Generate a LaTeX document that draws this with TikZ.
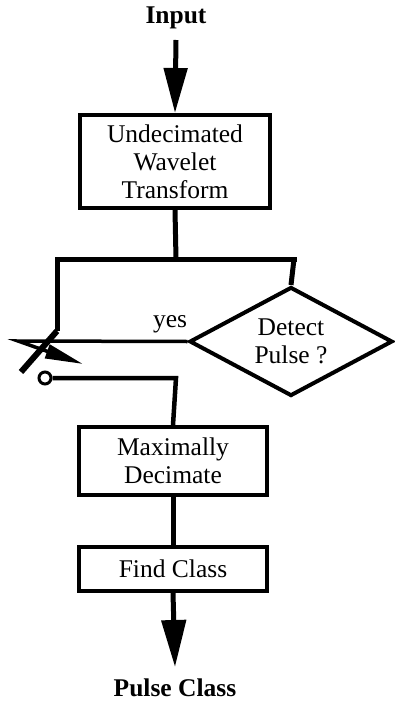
\documentclass[tikz,border=0pt]{standalone}
\usepackage{fontspec}
\setmainfont{Liberation Serif}
\usetikzlibrary{arrows.meta,shapes.geometric}
\begin{document}
\begin{tikzpicture}[x=1pt,y=-1pt,
  txt/.style={font=\fontsize{25.5}{28}\selectfont, align=center, inner sep=0pt},
  box/.style={txt, draw, line width=4pt, rectangle},
  conn/.style={line width=5pt},
  thinconn/.style={line width=3.5pt},
  bigtip/.style={-{Triangle[width=23pt,length=45pt]}}
]
\useasboundingbox (0,0) rectangle (395,701);

% texts
\node[txt, font=\fontsize{25.5}{28}\selectfont\bfseries] (input) at (176,18) {Input};
\node[txt, font=\fontsize{25.5}{28}\selectfont\bfseries] (output) at (175,688) {Pulse Class};
\node[txt] (yes) at (170,324) {yes};

% boxes
\node[box, minimum width=190pt, minimum height=93pt] (uwt) at (175,161.5)
  {Undecimated\\Wavelet\\Transform};
\node[box, minimum width=188pt, minimum height=68pt] (maxd) at (173,461)
  {Maximally\\Decimate};
\node[box, minimum width=188pt, minimum height=44pt] (find) at (173,569)
  {Find Class};

% diamond
\node[txt, draw, line width=4pt, diamond, shape aspect=1.83,
  minimum width=203pt, minimum height=109pt] (det) at (291,341.5)
  {Detect\\Pulse ?};

% coordinates
\coordinate (inTop) at (176,40);
\coordinate (J) at (176,259);
\coordinate (BL) at (57,259);
\coordinate (BR) at (294,259);
\coordinate (piv) at (57,331);
\coordinate (bladeEnd) at (21,372);
\coordinate (yesL) at (18,341);
\coordinate (yesTip) at (83,364);
\coordinate (C2) at (176,378);
\coordinate (outTip) at (175,667);

% input arrow
\draw[conn, bigtip] (inTop) -- (uwt.north);
% split
\draw[conn] (uwt.south) -- (J);
\draw[conn, line cap=rect] (BL) -- (BR);
\draw[conn] (BL) -- (piv);
\draw[conn] (BR) -- (det.north);
% yes control
\draw[thinconn, -{Triangle[width=14pt,length=38pt]}] (det.west) -- (yesL) -- (yesTip);
% switch blade
\draw[line width=6pt] (piv) -- (bladeEnd);
% switch contact
\node[draw, circle, line width=3pt, minimum size=12pt, inner sep=0pt] (cont) at (45,378) {};
\draw[line width=4.5pt] (cont.east) -- (C2) -- (maxd.north);
% chain
\draw[conn] (maxd.south) -- (find.north);
\draw[conn, -{Triangle[width=24pt,length=47pt]}] (find.south) -- (outTip);
\end{tikzpicture}
\end{document}
